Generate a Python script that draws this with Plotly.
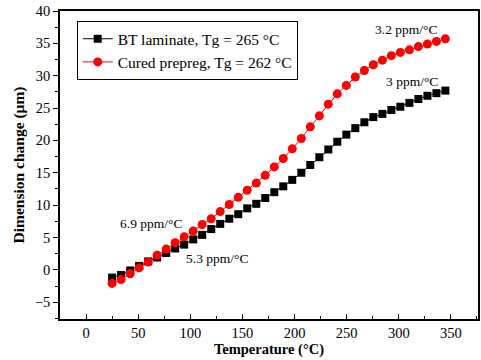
import plotly.graph_objects as go

temps = [25, 33.6, 42.3, 50.9, 59.6, 68.2, 76.9, 85.5, 94.1, 102.8, 111.4, 120.1,
         128.7, 137.4, 146, 154.6, 163.3, 171.9, 180.6, 189.2, 197.8, 206.5, 215.1,
         223.8, 232.4, 241, 249.7, 258.3, 267, 275.6, 284.3, 292.9, 301.5, 310.2,
         318.8, 327.5, 336.1, 344.7]

bt_laminate = [-1.2, -0.8, -0.1, 0.6, 1.3, 1.9, 2.6, 3.3, 3.9, 4.7, 5.4, 6.3,
               7.1, 7.9, 8.6, 9.5, 10.2, 11.1, 12.0, 12.9, 13.9, 15.0, 16.2,
               17.4, 18.6, 19.8, 20.9, 21.9, 22.8, 23.6, 24.1, 24.7, 25.2, 25.8,
               26.4, 26.9, 27.3, 27.7]

cured_prepreg = [-2.1, -1.5, -0.6, 0.3, 1.2, 2.25, 3.2, 4.2, 5.1, 6.0, 7.0, 7.9,
                 9.0, 10.1, 11.2, 12.3, 13.4, 14.6, 15.9, 17.2, 18.7, 20.3, 22.1,
                 23.8, 25.6, 27.2, 28.5, 29.8, 30.8, 31.7, 32.4, 33.1, 33.6, 34.0,
                 34.5, 34.9, 35.3, 35.7]

series_names = ["BT laminate, Tg = 265 \u00b0C", "Cured prepreg, Tg = 262 \u00b0C"]
labels = ["3.2 ppm/\u00b0C", "3 ppm/\u00b0C", "6.9 ppm/\u00b0C", "5.3 ppm/\u00b0C"]
label_pos = [(307, 37.1), (313, 29.1), (62, 7.1), (126, 1.7)]

FONT = "Liberation Serif"
XR = [-25, 376]
YR = [-7.6, 40]

fig = go.Figure()
fig.add_trace(go.Scatter(x=temps, y=bt_laminate, mode="lines+markers", name=series_names[0],
                         line=dict(color="black", width=1),
                         marker=dict(symbol="square", size=8, color="black")))
fig.add_trace(go.Scatter(x=temps, y=cured_prepreg, mode="lines+markers", name=series_names[1],
                         line=dict(color="red", width=1),
                         marker=dict(symbol="circle", size=9, color="red")))

for txt, (ax, ay) in zip(labels, label_pos):
    fig.add_annotation(x=ax, y=ay, text=txt, showarrow=False,
                       font=dict(family=FONT, size=13.5, color="black"))

fig.update_layout(
    width=481, height=360,
    margin=dict(l=60, r=1, t=11, b=41),
    paper_bgcolor="white", plot_bgcolor="white",
    font=dict(family=FONT, size=14, color="black"),
    showlegend=True,
    legend=dict(x=0.04, y=0.967, xanchor="left", yanchor="top",
                bordercolor="black", borderwidth=1, bgcolor="white",
                font=dict(family=FONT, size=15.5), tracegroupgap=0, itemwidth=30,
                itemsizing="trace"),
    xaxis=dict(range=XR, tickmode="linear", tick0=0, dtick=50,
               ticks="inside", ticklen=5, tickwidth=1, tickcolor="black",
               minor=dict(ticks="inside", ticklen=3, dtick=25, tick0=0, tickcolor="black"),
               showline=True, linecolor="black", linewidth=1.5, mirror=True,
               showgrid=False, zeroline=False,
               title=dict(text="<b>Temperature (\u00b0C)</b>", font=dict(family=FONT, size=14.5), standoff=2),
               tickfont=dict(family=FONT, size=14.5)),
    yaxis=dict(range=YR, tickmode="linear", tick0=0, dtick=5,
               ticks="outside", ticklen=5, tickwidth=1, tickcolor="black",
               minor=dict(ticks="outside", ticklen=3, dtick=2.5, tick0=0, tickcolor="black"),
               showline=True, linecolor="black", linewidth=1.5, mirror=True,
               showgrid=False, zeroline=False,
               title=dict(text="<b>Dimension change (\u03bcm)</b>", font=dict(family=FONT, size=15.5), standoff=6),
               tickfont=dict(family=FONT, size=14.5)),
    xaxis2=dict(range=XR, overlaying="x", side="top", anchor="y", tickmode="linear", tick0=0, dtick=50,
                ticks="inside", ticklen=5, tickcolor="black",
                minor=dict(ticks="inside", ticklen=3, dtick=25, tick0=0, tickcolor="black"),
                showticklabels=False, showgrid=False, zeroline=False, showline=False),
    yaxis2=dict(range=YR, overlaying="y", side="right", anchor="x", tickmode="linear", tick0=0, dtick=5,
                ticks="inside", ticklen=5, tickcolor="black",
                minor=dict(ticks="inside", ticklen=3, dtick=2.5, tick0=0, tickcolor="black"),
                showticklabels=False, showgrid=False, zeroline=False, showline=False),
)

fig.write_html("out.html")
